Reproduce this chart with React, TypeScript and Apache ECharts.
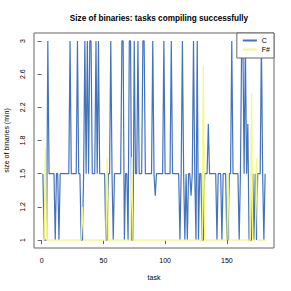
import React, { useEffect, useRef } from "react";
import * as echarts from "echarts";

// tick values of the y axis (placed at evenly spaced positions in the original)
const yTickLabels: number[] = [1, 1.2, 1.5, 1.8, 2.2, 2.6, 3];
const xTickValues: number[] = [0, 50, 100, 150];

// size of binaries (relative to min), task 1..181
const cValues: number[] = [
  1.5, 1, 1, 1, 3, 1.5, 1.5, 1.5, 1.5, 1.5,
  1, 1.5, 1.5, 1, 1.5, 1.5, 1.5, 1.5, 1.5, 1.5,
  1.5, 1.5, 3, 1.5, 1.5, 1.5, 1.5, 1.5, 3, 1.5,
  1.5, 1, 1, 1.5, 3, 1.5, 3, 1.5, 3, 3,
  1.5, 1.5, 1.5, 3, 1.5, 3, 1.5, 1.5, 1.5, 1.5,
  1.5, 1, 1, 1.5, 1.5, 3, 1.5, 1, 1.5, 1.5,
  1.5, 1.5, 1.5, 1.5, 3, 3, 1, 1.5, 1.5, 1,
  3, 3, 1, 1, 3, 1.5, 1.5, 3, 1.5, 1.5,
  1.5, 3, 3, 1.5, 1.5, 1.5, 1.5, 1.5, 1.5, 3,
  1.5, 1.3, 1.5, 1.5, 1.5, 1.5, 1.5, 1.5, 3, 1.5,
  1.5, 1.5, 1.5, 1.5, 3, 1.5, 1.5, 1.5, 1.5, 1.5,
  1.5, 1, 1.5, 3, 1.5, 1, 1.5, 1, 1.5, 1.5,
  1.3, 1.5, 3, 1.5, 1, 3, 1, 1.5, 1.5, 1,
  1, 1.5, 1.5, 1.5, 2.0, 1.5, 1.5, 1.5, 1.5, 1.5,
  1.5, 1, 1.5, 1.5, 1.5, 1, 1.5, 1.5, 1.5, 1,
  1, 1.5, 1.5, 3, 1.5, 1.5, 1.5, 1.5, 1.5, 1,
  1.5, 3, 3, 1.5, 3, 1.5, 2.0, 1, 1, 1,
  1.5, 1, 1.5, 1, 1.5, 1.5, 1.5, 3, 1.5, 1,
  1.5,
];

const fsValues: number[] = [
  1, 1, 1.73, 1, 1, 1, 1, 1, 1, 1,
  1, 1, 1, 1, 1, 1, 1, 1, 1, 1,
  1, 1, 1, 1, 1, 1, 1, 1, 1, 1,
  1, 1, 1.2, 1, 1, 1, 1, 1, 1, 1,
  1, 1, 1, 1, 1, 1, 1, 1, 1, 1,
  1, 1, 1.65, 1, 1, 1, 1, 1, 1, 1,
  1, 1, 1, 1, 1, 1, 1, 1, 1, 1,
  1, 1, 1.65, 1, 1, 1, 1, 1, 1, 1,
  1, 1, 1, 1, 1, 1, 1, 1, 1, 1,
  1, 1, 1, 1, 1, 1, 1, 1, 1, 1,
  1, 1, 1, 1, 1, 1, 1, 1, 1, 1,
  1, 1, 1, 1, 1, 1, 1, 1, 1, 1,
  1, 1, 1, 1, 1, 1, 1, 1, 1, 1,
  2.71, 1, 1, 1, 1, 1, 1, 1, 1, 1,
  1, 1, 1, 1, 1, 1, 1, 1, 1, 1,
  1.5, 1, 1, 1, 1, 1, 1, 1, 1, 1,
  1, 1, 1, 1, 1, 1, 1, 1, 1, 2.37,
  1, 1, 1, 1.64, 1, 1, 1, 1, 1, 1,
  1,
];

// map a value onto the evenly spaced tick positions of the axis
function toPos(v: number): number {
  for (let k = 0; k < yTickLabels.length - 1; k++) {
    const a = yTickLabels[k];
    const b = yTickLabels[k + 1];
    if (v <= b || k === yTickLabels.length - 2) {
      return k + (v - a) / (b - a);
    }
  }
  return 0;
}

const FONT = "Liberation Sans, Arial, sans-serif";

export default function App() {
  const ref = useRef<HTMLDivElement>(null);
  useEffect(() => {
    if (!ref.current) return;
    const chart = echarts.init(ref.current, undefined, { renderer: "svg" });
    const n = cValues.length;
    const pad = 0.04 * (n - 1);
    const yPad = 0.04 * (yTickLabels.length - 1);
    chart.setOption({
      animation: false,
      backgroundColor: "#ffffff",
      textStyle: { fontFamily: FONT },
      title: {
        text: "Size of binaries: tasks compiling successfully",
        left: 154,
        top: 9,
        textAlign: "center",
        textStyle: { fontSize: 8.2, fontWeight: "bold", color: "#000", fontFamily: FONT },
      },
      legend: {
        right: 17,
        top: 33,
        orient: "vertical",
        icon: "rect",
        itemWidth: 14,
        itemHeight: 2,
        itemGap: 0,
        padding: [3, 4, 4, 6],
        borderColor: "#666",
        borderWidth: 1,
        backgroundColor: "#fff",
        textStyle: { fontSize: 7, color: "#000", lineHeight: 9, fontFamily: FONT },
        data: ["C", "F#"],
      },
      grid: {
        left: 34,
        right: 17,
        top: 33,
        bottom: 43,
        containLabel: false,
        outerBoundsMode: "none",
        show: true,
        borderColor: "#666",
        borderWidth: 1,
        backgroundColor: "transparent",
      },
      xAxis: {
        type: "value",
        min: 1 - pad,
        max: n + pad,
        name: "task",
        nameLocation: "middle",
        nameGap: 26,
        nameTextStyle: { fontSize: 7, color: "#000", fontFamily: FONT },
        axisLine: { show: false },
        splitLine: { show: false },
        axisTick: { show: true, length: 4, customValues: xTickValues, lineStyle: { color: "#666" } },
        axisLabel: {
          customValues: xTickValues,
          fontSize: 7,
          color: "#000",
          margin: 9,
          fontFamily: FONT,
        },
      },
      yAxis: {
        type: "value",
        min: -yPad,
        max: yTickLabels.length - 1 + yPad,
        name: "size of binaries (min)",
        nameLocation: "middle",
        nameGap: 24,
        nameTextStyle: { fontSize: 7, color: "#000", fontFamily: FONT },
        axisLine: { show: false },
        splitLine: { show: false },
        axisTick: {
          show: true,
          length: 4,
          customValues: yTickLabels.map((_, i) => i),
          lineStyle: { color: "#666" },
        },
        axisLabel: {
          customValues: yTickLabels.map((_, i) => i),
          rotate: 90,
          fontSize: 7,
          color: "#000",
          margin: 8,
          fontFamily: FONT,
          formatter: (v: number) => String(yTickLabels[Math.round(v)]),
        },
      },
      series: [
        {
          name: "C",
          type: "line",
          symbol: "none",
          data: cValues.map((v, i) => [i + 1, toPos(v)]),
          lineStyle: { color: "#4373bd", width: 1.2 },
          itemStyle: { color: "#4373bd" },
        },
        {
          name: "F#",
          type: "line",
          symbol: "none",
          data: fsValues.map((v, i) => [i + 1, toPos(v)]),
          lineStyle: { color: "#f6f680", width: 1.2 },
          itemStyle: { color: "#f6f680" },
        },
      ],
    });
    return () => chart.dispose();
  }, []);
  return (
    <div
      ref={ref}
      style={{ position: "fixed", left: 0, top: 0, width: 291, height: 291, background: "#fff" }}
    />
  );
}
